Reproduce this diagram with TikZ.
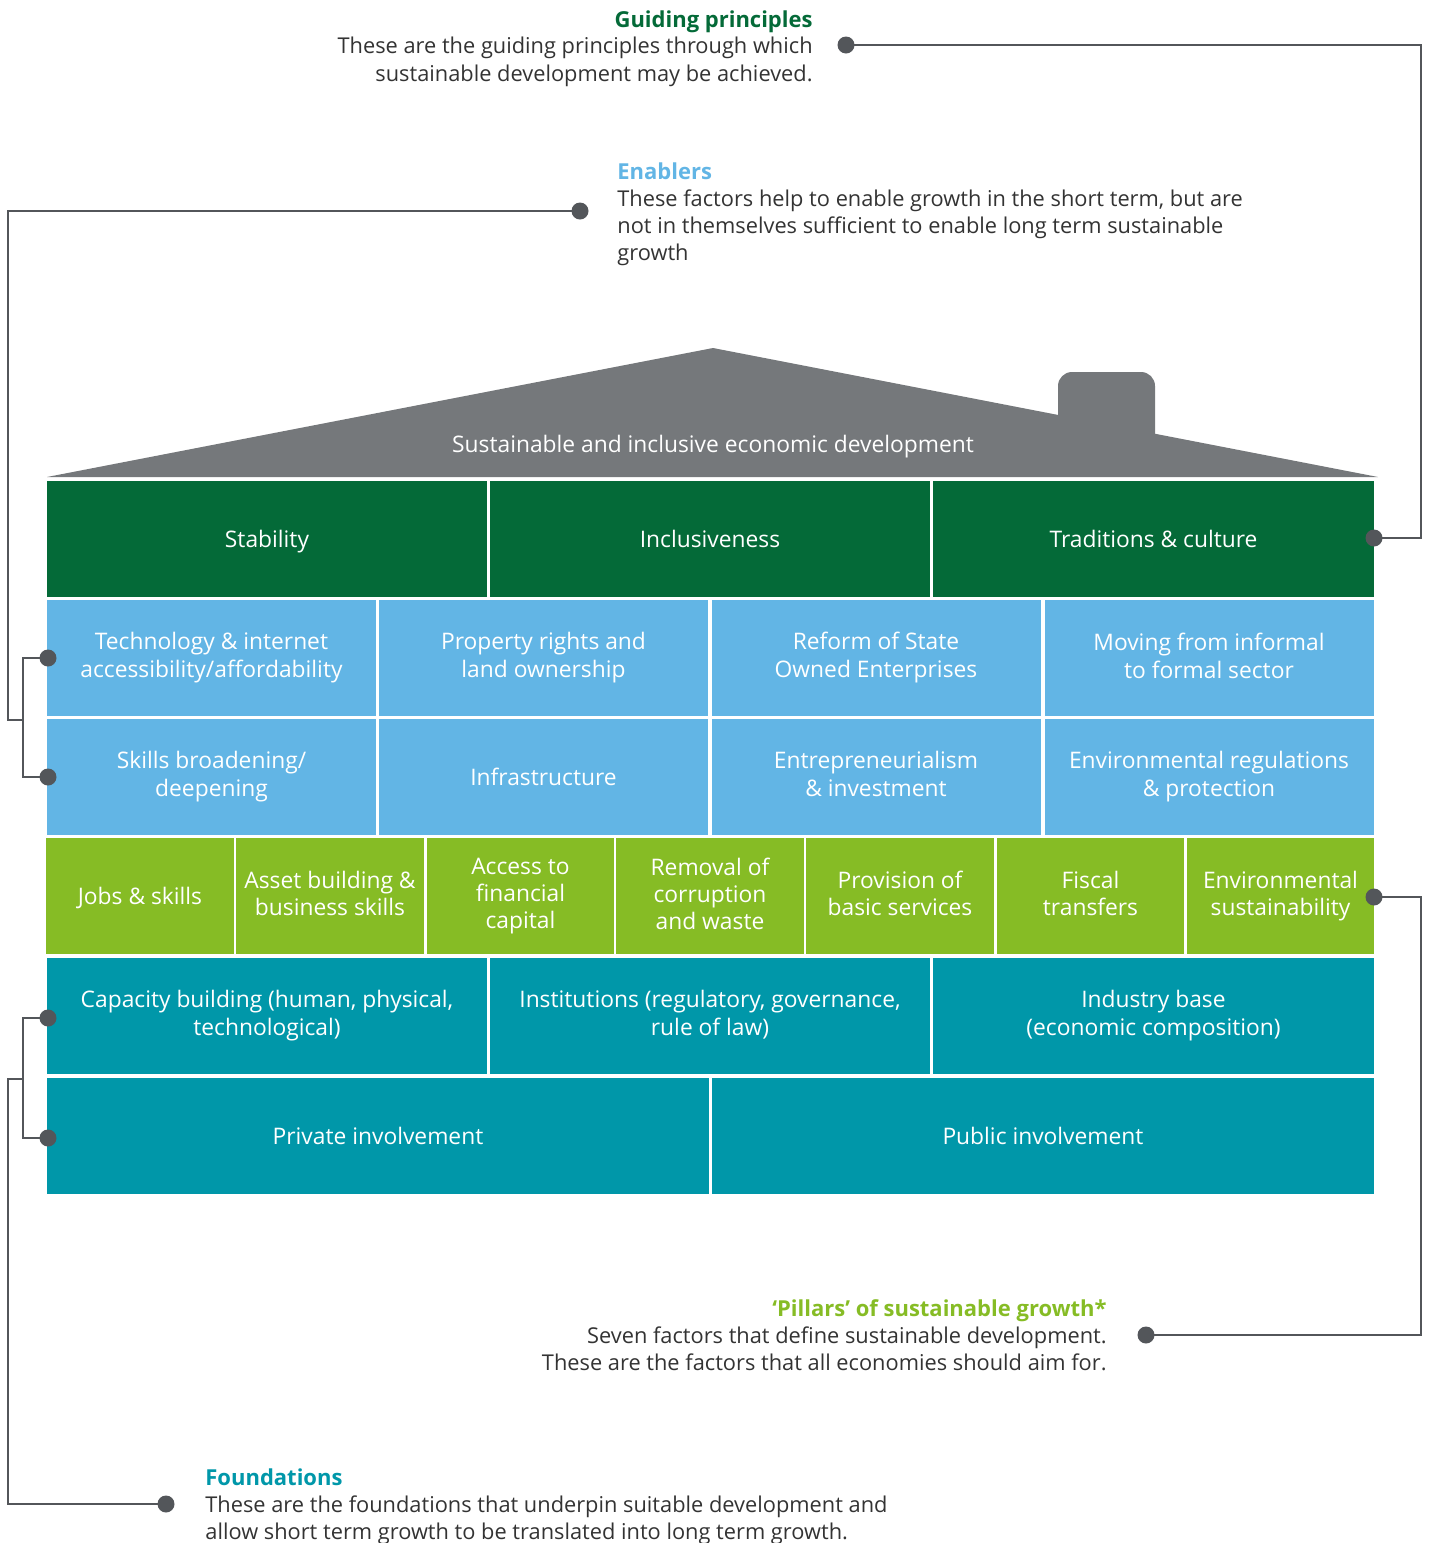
\documentclass[tikz,border=0pt]{standalone}
\usepackage{fontspec}
\setmainfont{Open Sans}
\usetikzlibrary{positioning,calc}
\definecolor{guidegreen}{HTML}{046A38}
\definecolor{enableblue}{HTML}{62B5E5}
\definecolor{pillarlime}{HTML}{86BC25}
\definecolor{foundteal}{HTML}{0097A9}
\definecolor{roofgray}{HTML}{75787B}
\definecolor{linegray}{HTML}{53565A}
\definecolor{bodytext}{HTML}{333333}

\begin{document}
\begin{tikzpicture}[x=0.5pt,y=-0.5pt,
		cell/.style={inner sep=0pt, text=white, align=center, minimum height=58pt,
			font=\fontsize{11.4}{14}\selectfont,
			execute at begin node={\rule{0pt}{11.3pt}},
			execute at end node={\rule[-2.7pt]{0pt}{2.7pt}}},
		principle/.style={cell, fill=guidegreen, minimum width=220pt},
		enabler/.style={cell, fill=enableblue, minimum width=164.5pt},
		pillar/.style={cell, fill=pillarlime, minimum width=93.75pt,
			font=\fontsize{11.4}{13.5}\selectfont},
		foundation/.style={cell, fill=foundteal, minimum width=220pt},
		dot/.style={circle, fill=linegray, inner sep=0pt, minimum size=8.5pt},
		conn/.style={draw=linegray, line width=1.25pt},
		head/.style={inner sep=0pt, font=\fontsize{11}{13.5}\selectfont\bfseries},
		body/.style={inner sep=0pt, text=bodytext, font=\fontsize{10.9}{13.6}\selectfont},
	]
	\useasboundingbox (0,0) rectangle (1429,1543);

	% roof
	\fill[roofgray, rounded corners=7pt] (1058,460) -- (1058,372) -- (1155,372) -- (1155,460) -- cycle;
	\fill[roofgray] (47,477) -- (713,348) -- (1378,477) -- cycle;
	\node[cell, minimum height=0pt] (roof) at (713,444) {Sustainable and inclusive economic development};

	% guiding principles
	\node[principle] (stab) at (267,539) {Stability};
	\node[principle] (incl) at (710,539) {Inclusiveness};
	\node[principle, minimum width=220.5pt] (trad) at (1153.5,539) {Traditions \& culture};

	% enablers
	\node[enabler] (tech) at (211.5,658) {Technology \& internet\\accessibility/affordability};
	\node[enabler] (prop) at (543.5,658) {Property rights and\\land ownership};
	\node[enabler] (soe)  at (876,658)   {Reform of State\\Owned Enterprises};
	\node[enabler] (info) at (1209,658)  {Moving from informal\\to formal sector};
	\node[enabler] (skil) at (211.5,777) {Skills broadening/\\deepening};
	\node[enabler] (infr) at (543.5,777) {Infrastructure};
	\node[enabler] (entr) at (876,777)   {Entrepreneurialism\\\& investment};
	\node[enabler] (envr) at (1209,777)  {Environmental regulations\\\& protection};

	% pillars
	\foreach \name/\cx/\txt in {jobs/140/{Jobs \& skills},
			asset/330/{Asset building \&\\business skills},
			fin/520.5/{Access to\\financial\\capital},
			corr/710/{Removal of\\corruption\\and waste},
			serv/900/{Provision of\\basic services},
			fisc/1090.5/{Fiscal\\transfers},
			envs/1280.5/{Environmental\\sustainability}}
		\node[pillar] (\name) at (\cx,896) {\txt};

	% foundations
	\node[foundation] (capb) at (267,1016) {Capacity building (human, physical,\\technological)};
	\node[foundation] (inst) at (710,1016) {Institutions (regulatory, governance,\\rule of law)};
	\node[foundation, minimum width=220.5pt] (indb) at (1153.5,1016) {Industry base\\(economic composition)};
	\node[foundation, minimum width=331pt] (priv) at (378,1136) {Private involvement};
	\node[foundation, minimum width=331pt] (publ) at (1043,1136) {Public involvement};

	% legends
	\node[head, text=guidegreen, anchor=base east] (gphead) at (813,27) {Guiding principles};
	\node[body, align=right, anchor=north east] (gpbody) at (813,37)
		{These are the guiding principles through which\\sustainable development may be achieved.};
	\node[head, text=enableblue, anchor=base west] (enhead) at (617,179) {Enablers};
	\node[body, align=left, anchor=north west] (enbody) at (617,189)
		{These factors help to enable growth in the short term, but are\\not in themselves sufficient to enable long term sustainable\\growth};
	\node[head, text=pillarlime, anchor=base east] (pihead) at (1107,1316) {`Pillars' of sustainable growth*};
	\node[body, align=right, anchor=north east] (pibody) at (1107,1326)
		{Seven factors that define sustainable development.\\These are the factors that all economies should aim for.};
	\node[head, text=foundteal, anchor=base west] (fohead) at (205,1485) {Foundations};
	\node[body, align=left, anchor=north west] (fobody) at (205,1495)
		{These are the foundations that underpin suitable development and\\allow short term growth to be translated into long term growth.};

	% connectors
	\node[dot] (gpdot) at (846,45) {};
	\node[dot] (trdot) at (1374,538) {};
	\node[dot] (endot) at (580,211) {};
	\node[dot] (tedot) at (48,658) {};
	\node[dot] (skdot) at (48,777) {};
	\node[dot] (pidot) at (1146,1335) {};
	\node[dot] (evdot) at (1374,897) {};
	\node[dot] (fodot) at (166,1504) {};
	\node[dot] (cadot) at (48,1018) {};
	\node[dot] (prdot) at (48,1138) {};

	\coordinate (gpturn) at (1421,45);
	\coordinate (piturn) at (1421,897);
	\coordinate (enturn) at (8,720);
	\coordinate (enfork) at (23,720);
	\coordinate (foturn) at (8,1079);
	\coordinate (fofork) at (23,1079);

	\draw[conn] (gpdot.center) -- (gpturn) |- (trdot.center);
	\draw[conn] (evdot.center) -- (piturn) |- (pidot.center);
	\draw[conn] (endot.center) -| (enturn) -- (enfork);
	\draw[conn] (tedot.center) -| (enfork) |- (skdot.center);
	\draw[conn] (fodot.center) -| (foturn) -- (fofork);
	\draw[conn] (cadot.center) -| (fofork) |- (prdot.center);
\end{tikzpicture}
\end{document}
